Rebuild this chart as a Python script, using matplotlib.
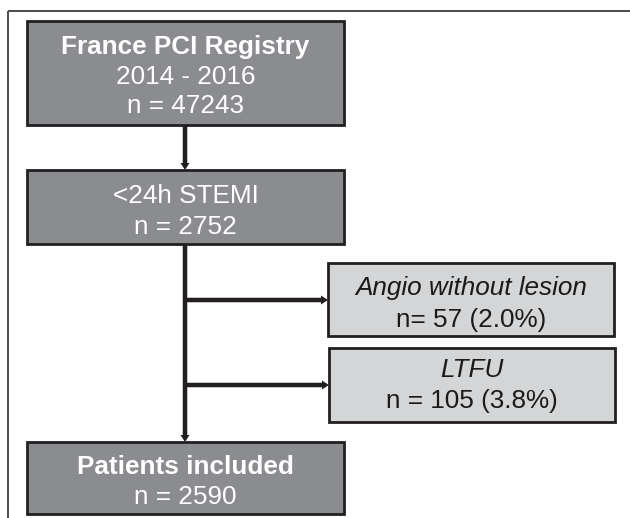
import matplotlib
matplotlib.use("Agg")
import matplotlib.pyplot as plt
from matplotlib.patches import Rectangle, FancyArrow

plt.rcParams['font.family'] = ['Liberation Sans', 'DejaVu Sans']

# ---- data ----
registry_title = "France PCI Registry"
registry_years = "2014 - 2016"
registry_n = 47243
stemi_label = "<24h STEMI"
stemi_n = 2752
excl_labels = ["Angio without lesion", "LTFU"]
excl_n = [57, 105]
excl_pct = [2.0, 3.8]
included_label = "Patients included"
included_n = 2590

W, H = 630, 518
fig = plt.figure(figsize=(W / 100, H / 100), dpi=100)
ax = fig.add_axes([0, 0, 1, 1])
ax.set_xlim(0, W)
ax.set_ylim(H, 0)
ax.axis('off')

DARK = '#8b8c8f'
LIGHT = '#d4d5d7'
EDGE = '#231f20'
FS = 18.8
CAP = FS * 100 / 72 * 0.716 / 2  # half cap height in px


def box(x0, y0, x1, y1, fc):
    ax.add_patch(Rectangle((x0, y0), x1 - x0, y1 - y0, facecolor=fc,
                           edgecolor=EDGE, lw=2.0, zorder=2))


def line(txt, x, yc, color, **kw):
    ax.text(x, yc + CAP, txt, ha='center', va='baseline', fontsize=FS,
            color=color, zorder=3, **kw)


def arrow(x0, y0, x1, y1):
    ax.add_patch(FancyArrow(x0, y0, x1 - x0, y1 - y0, width=4.5,
                            head_width=9, head_length=7,
                            length_includes_head=True, color=EDGE, lw=0,
                            zorder=1))


# outer frame
ax.plot([8, W], [11, 11], color='#4a4a4a', lw=1.4, solid_capstyle='butt')
ax.plot([8, 8], [11, H], color='#4a4a4a', lw=1.4, solid_capstyle='butt')

# main column
bx0, bx1 = 27, 344
cx = (bx0 + bx1) / 2
box(bx0, 21, bx1, 125, DARK)
line(registry_title, cx, 45, 'white', fontweight='bold')
line(registry_years, cx, 75, 'white')
line(f"n = {registry_n}", cx, 104, 'white')

arrow(185, 125, 185, 170)

box(bx0, 170, bx1, 244, DARK)
line(stemi_label, cx, 194, 'white')
line(f"n = {stemi_n}", cx, 225, 'white')

arrow(185, 244, 185, 442)

box(bx0, 442, bx1, 514, DARK)
line(included_label, cx, 465, 'white', fontweight='bold')
line(f"n = {included_n}", cx, 495, 'white')

# exclusion boxes
ex_boxes = [(328, 263, 614, 336), (329, 348, 615, 422)]
ex_lines = [(286, 318), (368, 399)]
ex_fmt = ["n= {n} ({p:.1f}%)", "n = {n} ({p:.1f}%)"]
branch_y = [300, 385]
for (x0, y0, x1, y1), (l1, l2), lab, n, p, fmt, by in zip(
        ex_boxes, ex_lines, excl_labels, excl_n, excl_pct, ex_fmt, branch_y):
    box(x0, y0, x1, y1, LIGHT)
    ecx = (x0 + x1) / 2
    line(lab, ecx, l1, '#1a1a1a', style='italic')
    line(fmt.format(n=n, p=p), ecx, l2, '#1a1a1a')
    arrow(183, by, x0, by)

fig.savefig('out.png', dpi=100)
